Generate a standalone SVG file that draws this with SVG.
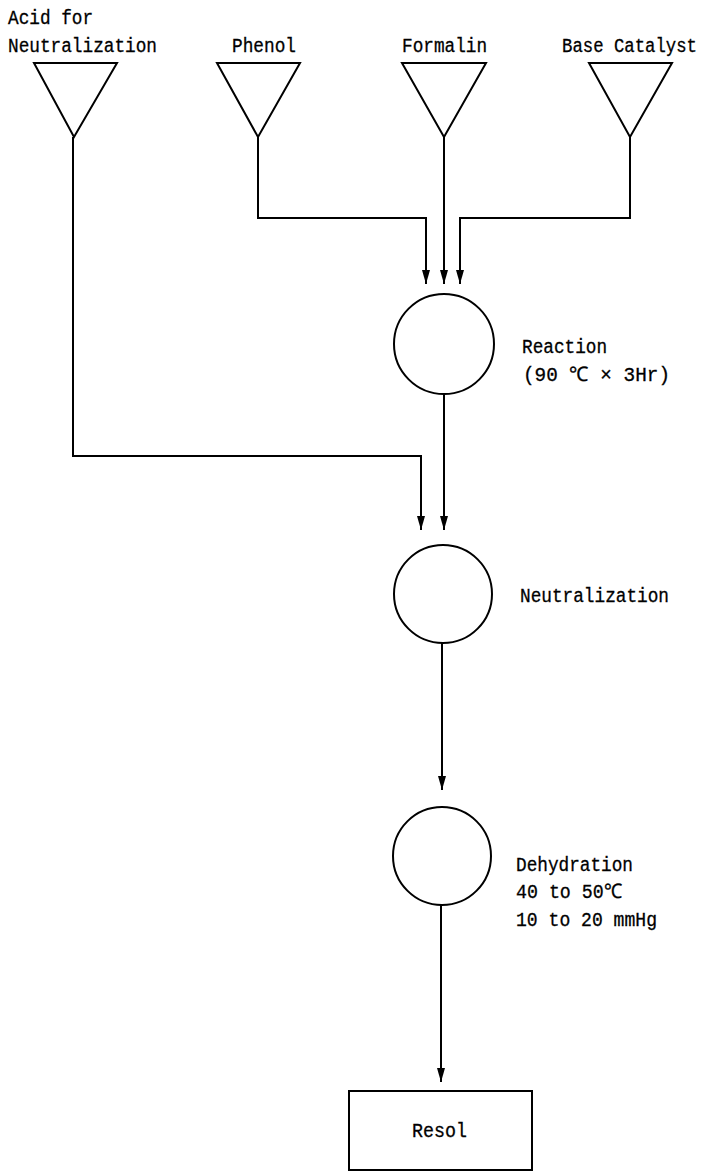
<svg xmlns="http://www.w3.org/2000/svg" width="710" height="1171" viewBox="0 0 710 1171">
<style>
.s{fill:none;stroke:#000;stroke-width:2}
.c{fill:none;stroke:#000;stroke-width:2}
text{font-family:"Liberation Mono","DejaVu Sans Mono",monospace;font-size:20px;fill:#000;stroke:#000;stroke-width:0.3}
</style>
<defs>
<marker id="ah" markerUnits="userSpaceOnUse" viewBox="0 -5 14 10" refX="14" refY="0" markerWidth="14" markerHeight="10" orient="auto">
<path d="M0,-4 L14,0 L0,4 z" fill="#000"/>
</marker>
</defs>
<rect width="710" height="1171" fill="#fff"/>
<g id="acid">
<polygon class="s" points="34,63 117,63 74,137"/>
<text x="8" y="24" textLength="85" lengthAdjust="spacingAndGlyphs">Acid for</text>
<text x="8" y="52" textLength="149" lengthAdjust="spacingAndGlyphs">Neutralization</text>
</g>
<g id="phenol">
<polygon class="s" points="217,63 300,63 258,137"/>
<text x="232" y="52" textLength="64" lengthAdjust="spacingAndGlyphs">Phenol</text>
</g>
<g id="formalin">
<polygon class="s" points="402,63 486,63 444,137"/>
<text x="402" y="52" textLength="85" lengthAdjust="spacingAndGlyphs">Formalin</text>
</g>
<g id="base">
<polygon class="s" points="589,63 672,63 630,137"/>
<text x="562" y="52" textLength="135" lengthAdjust="spacingAndGlyphs">Base Catalyst</text>
</g>
<g id="reaction">
<circle class="c" cx="444" cy="344" r="50"/>
<text x="522" y="353" textLength="85" lengthAdjust="spacingAndGlyphs">Reaction</text>
<text x="523" y="381" textLength="147" lengthAdjust="spacingAndGlyphs">(90 ℃ × 3Hr)</text>
</g>
<g id="neutralization">
<circle class="c" cx="443" cy="594" r="49"/>
<text x="520" y="602" textLength="149" lengthAdjust="spacingAndGlyphs">Neutralization</text>
</g>
<g id="dehydration">
<circle class="c" cx="442" cy="856" r="49"/>
<text x="516" y="871" textLength="117" lengthAdjust="spacingAndGlyphs">Dehydration</text>
<text x="516" y="898" textLength="106" lengthAdjust="spacingAndGlyphs">40 to 50℃</text>
<text x="516" y="926" textLength="141" lengthAdjust="spacingAndGlyphs">10 to 20 mmHg</text>
</g>
<g id="resol">
<rect class="s" x="349" y="1091" width="183" height="79"/>
<text x="412" y="1137" textLength="55" lengthAdjust="spacingAndGlyphs">Resol</text>
</g>
<g id="connectors" class="s">
<path class="s" d="M258,137 V218 H426 V284" marker-end="url(#ah)"/>
<path class="s" d="M444,137 V284" marker-end="url(#ah)"/>
<path class="s" d="M630,137 V218 H460 V284" marker-end="url(#ah)"/>
<path class="s" d="M73,137 V456 H421 V530" marker-end="url(#ah)"/>
<path class="s" d="M444,394 V530" marker-end="url(#ah)"/>
<path class="s" d="M442,643 V790" marker-end="url(#ah)"/>
<path class="s" d="M441,905 V1082" marker-end="url(#ah)"/>
</g>
</svg>
